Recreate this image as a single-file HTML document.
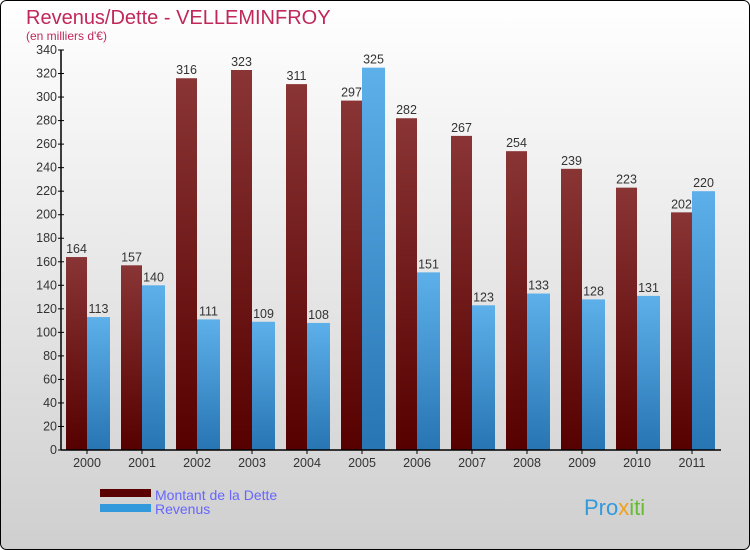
<!DOCTYPE html>
<html><head><meta charset="utf-8"><style>
body{margin:0}
#wrap{position:relative;width:750px;height:550px;overflow:hidden;font-family:"Liberation Sans",sans-serif}
</style></head><body>
<div id="wrap">
<svg width="750" height="550" font-family="Liberation Sans, sans-serif">
<defs>
<linearGradient id="bg" x1="0" y1="0" x2="0" y2="1"><stop offset="0" stop-color="#ffffff"/><stop offset="1" stop-color="#cfcfcf"/></linearGradient>
<linearGradient id="gd" x1="0" y1="0" x2="0" y2="1"><stop offset="0" stop-color="#8a3535"/><stop offset="1" stop-color="#560000"/></linearGradient>
<linearGradient id="gr" x1="0" y1="0" x2="0" y2="1"><stop offset="0" stop-color="#5db0ea"/><stop offset="1" stop-color="#2775b3"/></linearGradient>
</defs>
<rect x="0.5" y="0.5" width="749" height="549" rx="6" fill="url(#bg)" stroke="#000"/>
<text x="26" y="24" font-size="20" fill="#c0285a">Revenus/Dette - VELLEMINFROY</text>
<text x="26" y="40" font-size="12" fill="#c0285a">(en milliers d'€)</text>
<g id="plot"></g>
<rect x="100" y="489" width="51" height="8" fill="#5a0000"/>
<text x="155" y="500" font-size="14" fill="#6666ff">Montant de la Dette</text>
<rect x="100" y="504" width="51" height="8" fill="#3399dd"/>
<text x="155" y="514" font-size="14" fill="#6666ff">Revenus</text>
<text x="584" y="515" font-size="22" fill="#3399dd">Pro<tspan fill="#f0a020">x</tspan><tspan fill="#66bb33">iti</tspan></text>
</svg>
</div>
<script>
const categories=["2000","2001","2002","2003","2004","2005","2006","2007","2008","2009","2010","2011"];
const dette=[164,157,316,323,311,297,282,267,254,239,223,202];
const revenus=[113,140,111,109,108,325,151,123,133,128,131,220];
const ticks=[0,20,40,60,80,100,120,140,160,180,200,220,240,260,280,300,320,340];
const NS="http://www.w3.org/2000/svg";
const g=document.getElementById("plot");
const x0=61,gw=55,y0=450,yMax=340,ph=400;
function y(v){return y0-v/yMax*ph;}
function gx(i){return x0+i*gw;}
function mk(t,a){const e=document.createElementNS(NS,t);for(const k in a)e.setAttribute(k,a[k]);g.appendChild(e);return e;}
categories.forEach((c,i)=>{
  const b1=mk("rect",{x:gx(i)+5,y:y(dette[i]),width:21,height:y0-y(dette[i]),fill:"url(#gd)"});
  
  
  const b2=mk("rect",{x:gx(i)+26,y:y(revenus[i]),width:23,height:y0-y(revenus[i]),fill:"url(#gr)"});
  
  
  const t1=mk("text",{x:gx(i)+15.5,y:y(dette[i])-4,"font-size":12.5,fill:"#333","text-anchor":"middle"});
  t1.textContent=dette[i];
  
  
  const t2=mk("text",{x:gx(i)+37.5,y:y(revenus[i])-4,"font-size":12.5,fill:"#333","text-anchor":"middle"});
  t2.textContent=revenus[i];
  
  
  const tk=mk("line",{x1:gx(i)+26,x2:gx(i)+26,y1:y0,y2:y0+4,stroke:"#000"});
  
  
  const xl=mk("text",{x:gx(i)+26,y:y0+17,"font-size":12.5,fill:"#333","text-anchor":"middle"});
  xl.textContent=c;
  
  
});
ticks.forEach(v=>{
  const l=mk("line",{x1:x0-3,x2:x0+3,y1:y(v),y2:y(v),stroke:"#000"});
  
  
  const t=mk("text",{x:x0-4,y:y(v)+4,"font-size":12.5,fill:"#333","text-anchor":"end"});
  t.textContent=v;
  
  
});
const ya=mk("line",{x1:x0,x2:x0,y1:y(yMax),y2:y0,stroke:"#000","stroke-width":1.5});


const xa=mk("line",{x1:x0,x2:x0+gw*categories.length,y1:y0,y2:y0,stroke:"#000","stroke-width":1.5});


</script>
</body></html>
